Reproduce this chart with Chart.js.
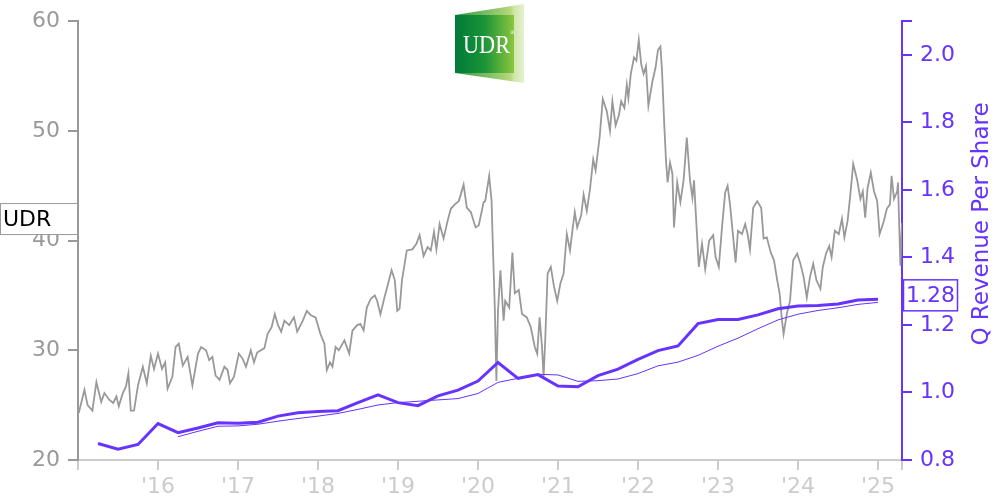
<!DOCTYPE html>
<html>
<head>
<meta charset="utf-8">
<script src="https://cdn.jsdelivr.net/npm/chart.js@4.4.1/dist/chart.umd.min.js"></script>
<style>
  body { margin: 0; background: #fff; }
  #wrap { position: relative; width: 1000px; height: 500px; }
  #logo { position: absolute; left: 455px; top: 4px; }
</style>
</head>
<body>
<div id="wrap">
  <canvas id="chart" width="1000" height="500"></canvas>
  <svg id="logo" width="70" height="80" viewBox="0 0 70 80">
    <defs>
      <linearGradient id="outer" x1="0" x2="1" y1="0" y2="0">
        <stop offset="0" stop-color="#2e9a45"/>
        <stop offset="0.8" stop-color="#b5d77a"/>
        <stop offset="0.86" stop-color="#cfe6a6"/>
        <stop offset="1" stop-color="#e6f2d4"/>
      </linearGradient>
      <linearGradient id="inner" x1="0" x2="1" y1="0" y2="0">
        <stop offset="0" stop-color="#007a38"/>
        <stop offset="0.5" stop-color="#1a9438"/>
        <stop offset="1" stop-color="#8cc63f"/>
      </linearGradient>
    </defs>
    <polygon points="0,11 69,0 69,79 0,69" fill="url(#outer)"/>
    <rect x="0" y="11" width="59" height="58" fill="url(#inner)"/>
    <text x="8" y="49" font-family="Liberation Serif, serif" font-size="25" fill="#fff" textLength="47" lengthAdjust="spacingAndGlyphs">UDR</text>
    <text x="55" y="30" font-family="DejaVu Sans" font-size="5" fill="#fff">®</text>
  </svg>
</div>
<script>
const PURPLE = '#6633ff';
const GRAY = '#999999';
const LIGHT = '#cccccc';
const FONT = 'DejaVu Sans';

// quarterly revenue per share (decimal years at quarter end)
const revDates = [2015.25, 2015.5, 2015.75, 2016.0, 2016.25, 2016.5, 2016.75, 2017.0, 2017.25, 2017.5,
  2017.75, 2018.0, 2018.25, 2018.5, 2018.75, 2019.0, 2019.25, 2019.5, 2019.75, 2020.0,
  2020.25, 2020.5, 2020.75, 2021.0, 2021.25, 2021.5, 2021.75, 2022.0, 2022.25, 2022.5,
  2022.75, 2023.0, 2023.25, 2023.5, 2023.75, 2024.0, 2024.25, 2024.5, 2024.75, 2025.0];
const revValues = [0.849, 0.832, 0.846, 0.908, 0.881, 0.895, 0.910, 0.909, 0.912, 0.930,
  0.940, 0.944, 0.946, 0.970, 0.993, 0.970, 0.961, 0.990, 1.007, 1.034,
  1.089, 1.042, 1.053, 1.019, 1.017, 1.050, 1.069, 1.098, 1.124, 1.138,
  1.204, 1.216, 1.216, 1.230, 1.248, 1.256, 1.258, 1.262, 1.274, 1.276];

// thin line, trailing average of the quarterly values
const avgDates = revDates.slice(4);
const avgValues = [0.869, 0.885, 0.900, 0.901, 0.906, 0.915, 0.923, 0.930, 0.938, 0.950,
  0.963, 0.970, 0.974, 0.978, 0.982, 0.997, 1.030, 1.042, 1.054, 1.052,
  1.033, 1.035, 1.040, 1.056, 1.079, 1.090, 1.110, 1.137, 1.161, 1.189,
  1.215, 1.232, 1.243, 1.251, 1.261, 1.267];

// share price
const priceDates = [2015.01, 2015.05, 2015.08, 2015.12, 2015.18, 2015.23, 2015.29, 2015.33, 2015.39, 2015.44,
  2015.48, 2015.51, 2015.56, 2015.60, 2015.63, 2015.66, 2015.70, 2015.75, 2015.81, 2015.86,
  2015.91, 2015.95, 2016.00, 2016.05, 2016.09, 2016.12, 2016.18, 2016.22, 2016.26, 2016.31,
  2016.37, 2016.43, 2016.50, 2016.54, 2016.60, 2016.64, 2016.68, 2016.72, 2016.77, 2016.83,
  2016.87, 2016.90, 2016.95, 2017.01, 2017.06, 2017.10, 2017.16, 2017.20, 2017.24, 2017.33,
  2017.37, 2017.42, 2017.46, 2017.50, 2017.54, 2017.58, 2017.64, 2017.70, 2017.74, 2017.81,
  2017.86, 2017.91, 2017.97, 2018.03, 2018.08, 2018.11, 2018.15, 2018.18, 2018.22, 2018.26,
  2018.33, 2018.39, 2018.43, 2018.49, 2018.53, 2018.57, 2018.61, 2018.66, 2018.71, 2018.74,
  2018.78, 2018.83, 2018.87, 2018.92, 2018.96, 2018.99, 2019.02, 2019.05, 2019.11, 2019.18,
  2019.23, 2019.27, 2019.32, 2019.37, 2019.41, 2019.45, 2019.48, 2019.52, 2019.57, 2019.62,
  2019.66, 2019.71, 2019.76, 2019.82, 2019.86, 2019.91, 2019.97, 2020.01, 2020.07, 2020.09,
  2020.14, 2020.17, 2020.18, 2020.21, 2020.23, 2020.25, 2020.28, 2020.32, 2020.34, 2020.39,
  2020.43, 2020.46, 2020.51, 2020.55, 2020.61, 2020.66, 2020.71, 2020.74, 2020.77, 2020.80,
  2020.82, 2020.84, 2020.87, 2020.91, 2020.95, 2020.99, 2021.03, 2021.07, 2021.11, 2021.15,
  2021.18, 2021.21, 2021.24, 2021.29, 2021.32, 2021.36, 2021.40, 2021.44, 2021.47, 2021.49,
  2021.52, 2021.56, 2021.61, 2021.65, 2021.68, 2021.72, 2021.76, 2021.79, 2021.83, 2021.86,
  2021.88, 2021.91, 2021.95, 2021.98, 2022.01, 2022.04, 2022.07, 2022.10, 2022.13, 2022.18,
  2022.22, 2022.25, 2022.28, 2022.30, 2022.33, 2022.35, 2022.37, 2022.40, 2022.43, 2022.45,
  2022.49, 2022.53, 2022.57, 2022.61, 2022.65, 2022.68, 2022.70, 2022.73, 2022.76, 2022.80,
  2022.84, 2022.89, 2022.94, 2022.97, 2023.01, 2023.05, 2023.09, 2023.12, 2023.15, 2023.19,
  2023.22, 2023.25, 2023.30, 2023.34, 2023.37, 2023.40, 2023.44, 2023.49, 2023.54, 2023.57,
  2023.61, 2023.66, 2023.70, 2023.74, 2023.77, 2023.80, 2023.82, 2023.86, 2023.90, 2023.94,
  2023.99, 2024.03, 2024.07, 2024.11, 2024.15, 2024.19, 2024.23, 2024.28, 2024.31, 2024.35,
  2024.39, 2024.42, 2024.46, 2024.51, 2024.55, 2024.58, 2024.62, 2024.65, 2024.69, 2024.74,
  2024.78, 2024.81, 2024.84, 2024.87, 2024.91, 2024.95, 2024.99, 2025.02, 2025.07, 2025.11,
  2025.15, 2025.17, 2025.20, 2025.24, 2025.25, 2025.28, 2025.30];
const priceValues = [24.3, 25.5, 26.4, 25.0, 24.5, 27.1, 25.3, 26.1, 25.5, 25.2,
  25.8, 24.9, 26.1, 26.7, 27.9, 24.5, 24.5, 26.8, 28.5, 27.0,
  29.5, 28.3, 29.7, 28.3, 28.9, 26.5, 27.6, 30.3, 30.6, 28.6,
  29.4, 26.8, 29.7, 30.3, 30.0, 29.1, 29.4, 27.7, 27.3, 28.5,
  28.2, 27.0, 27.6, 29.7, 29.2, 28.5, 30.0, 28.9, 29.8, 30.2,
  31.5, 32.1, 33.3, 32.3, 31.7, 32.7, 32.3, 33.0, 31.7, 32.7,
  33.6, 33.2, 33.0, 31.5, 30.6, 28.2, 28.9, 28.5, 30.3, 30.0,
  30.9, 29.7, 31.8, 32.3, 32.4, 31.8, 33.9, 34.7, 35.0, 34.5,
  33.3, 34.8, 35.9, 37.3, 36.4, 33.6, 33.8, 36.4, 39.1, 39.2,
  39.7, 40.5, 38.6, 39.4, 39.1, 40.8, 39.2, 41.5, 40.2, 41.8,
  42.9, 43.3, 43.6, 45.1, 43.0, 42.6, 41.2, 41.4, 43.5, 43.6,
  45.9, 43.6, 40.9, 33.9, 27.2, 33.6, 37.3, 32.7, 34.5, 33.9,
  38.9, 35.2, 35.5, 33.3, 33.0, 32.1, 30.3, 29.7, 33.0, 30.3,
  27.6, 30.9, 37.0, 37.6, 35.8, 34.5, 36.1, 37.0, 40.6, 39.1,
  40.9, 42.6, 41.2, 42.3, 44.2, 42.7, 44.7, 47.4, 46.4, 47.6,
  49.4, 52.9, 51.8, 50.0, 52.7, 50.5, 51.4, 52.7, 52.1, 54.2,
  53.0, 55.2, 56.7, 56.4, 58.3, 56.1, 55.2, 55.9, 52.3, 54.5,
  55.8, 57.4, 57.7, 55.5, 50.3, 47.3, 45.3, 47.1, 46.1, 41.2,
  45.3, 43.5, 45.5, 49.4, 45.5, 43.9, 45.5, 41.5, 37.6, 39.7,
  37.4, 40.0, 40.5, 38.5, 37.6, 41.2, 44.4, 45.0, 43.3, 40.3,
  38.0, 40.9, 40.6, 41.5, 40.6, 39.2, 43.0, 43.6, 43.0, 40.2,
  40.3, 38.9, 38.2, 36.4, 35.2, 32.7, 31.5, 33.3, 34.5, 38.2,
  38.8, 37.9, 36.7, 34.8, 36.7, 37.9, 36.4, 35.6, 37.6, 38.8,
  39.5, 38.5, 40.9, 40.6, 42.0, 40.3, 41.8, 43.9, 47.0, 45.5,
  43.8, 44.5, 42.1, 44.8, 46.2, 44.5, 43.6, 40.6, 41.7, 42.9,
  43.3, 45.9, 43.8, 44.5, 45.3, 37.7, 41.6];

const yearTicks = [2015, 2016, 2017, 2018, 2019, 2020, 2021, 2022, 2023, 2024, 2025, 2025.3];
const priceTicks = [20, 30, 40, 50, 60];
const revTicks = [0.8, 1.0, 1.2, 1.4, 1.6, 1.8, 2.0, 2.1];

const pts = (xs, ys) => xs.map((x, i) => ({ x: x, y: ys[i] }));

const overlay = {
  id: 'overlay',
  afterDraw(chart) {
    const c = chart.ctx;
    const ys = chart.scales.y, yr = chart.scales.y1;
    c.save();
    c.font = '22px ' + FONT;
    c.textBaseline = 'middle';

    // last price box
    let py = ys.getPixelForValue(priceValues[priceValues.length - 1]) - 4;
    c.fillStyle = '#fff';
    c.fillRect(0, py - 16, 78, 32);
    c.strokeStyle = GRAY;
    c.lineWidth = 1;
    c.strokeRect(0.5, py - 15.5, 77, 31);
    c.fillStyle = '#000';
    c.textAlign = 'left';
    c.fillText('UDR', 3, py + 1);

    // last revenue box
    const last = revValues[revValues.length - 1];
    let ry = yr.getPixelForValue(last) - 4;
    c.fillStyle = '#fff';
    c.fillRect(903, ry - 16, 55, 32);
    c.strokeStyle = PURPLE;
    c.lineWidth = 1.5;
    c.strokeRect(903.5, ry - 15.5, 54, 31);
    c.fillStyle = PURPLE;
    c.fillText(last.toFixed(2), 906, ry + 1);

    // right axis title
    c.translate(982, 224);
    c.rotate(-Math.PI / 2);
    c.textAlign = 'center';
    c.font = '23px ' + FONT;
    c.fillText('Q Revenue Per Share', 0, 0);
    c.restore();
  }
};

new Chart(document.getElementById('chart'), {
  type: 'line',
  data: {
    datasets: [
      { data: pts(revDates, revValues), yAxisID: 'y1', borderColor: PURPLE, borderWidth: 3, pointRadius: 0 },
      { data: pts(avgDates, avgValues), yAxisID: 'y1', borderColor: PURPLE, borderWidth: 1, pointRadius: 0 },
      { data: pts(priceDates, priceValues), yAxisID: 'y', borderColor: GRAY, borderWidth: 1.8, pointRadius: 0 }
    ]
  },
  options: {
    responsive: false,
    animation: false,
    layout: { padding: { top: 20, left: 0, right: 0, bottom: 0 } },
    plugins: { legend: { display: false }, tooltip: { enabled: false } },
    scales: {
      x: {
        type: 'linear', min: 2015.0, max: 2025.3,
        afterBuildTicks: s => { s.ticks = yearTicks.map(v => ({ value: v })); },
        afterFit: s => { s.height = 40; },
        grid: { drawOnChartArea: false, tickLength: 10, color: LIGHT, lineWidth: 2 },
        border: { color: LIGHT, width: 2 },
        ticks: {
          autoSkip: false, maxRotation: 0, padding: 4, color: LIGHT,
          font: { family: FONT, size: 22 },
          callback: v => (Number.isInteger(v) && v >= 2016) ? "'" + String(v).slice(2) : ''
        }
      },
      y: {
        position: 'left', min: 20, max: 60,
        afterBuildTicks: s => { s.ticks = priceTicks.map(v => ({ value: v })); },
        afterFit: s => { s.width = 78; },
        grid: { drawOnChartArea: false, tickLength: 10, color: GRAY, lineWidth: 2 },
        border: { color: GRAY, width: 2 },
        ticks: { padding: 8, color: GRAY, font: { family: FONT, size: 22 } }
      },
      y1: {
        position: 'right', min: 0.8, max: 2.1,
        afterBuildTicks: s => { s.ticks = revTicks.map(v => ({ value: v })); },
        afterFit: s => { s.width = 98; },
        grid: { drawOnChartArea: false, tickLength: 10, color: PURPLE, lineWidth: 2 },
        border: { color: PURPLE, width: 2 },
        ticks: {
          padding: 8, color: PURPLE, font: { family: FONT, size: 22 },
          callback: v => v === 2.1 ? '' : v.toFixed(1)
        }
      }
    }
  },
  plugins: [overlay]
});
</script>
</body>
</html>
